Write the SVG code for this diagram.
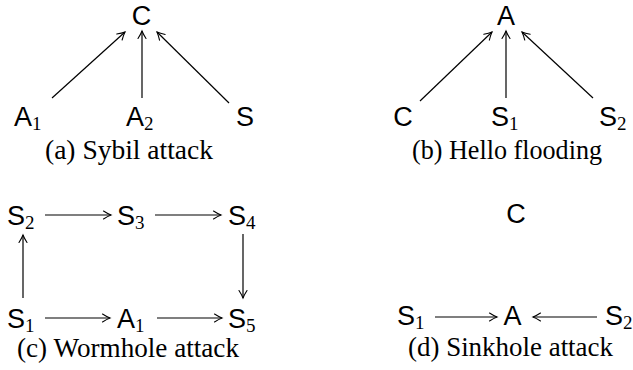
<svg xmlns="http://www.w3.org/2000/svg" width="633" height="370" viewBox="0 0 633 370">
  <defs>
    <marker id="to" markerUnits="userSpaceOnUse" markerWidth="12" markerHeight="12" viewBox="-9 -6 12 12" refX="0" refY="0" orient="auto">
      <path d="M-7.5,-4 C-5,-2.4 -1.8,-0.7 0,0 C-1.8,0.7 -5,2.4 -7.5,4" fill="none" stroke="#000" stroke-width="1.1" stroke-linecap="round"/>
    </marker>
  </defs>
  <style>
    .n { font-family: "Liberation Sans", Arial, sans-serif; font-size: 27px; fill: #000; }
    .s { font-family: "Liberation Serif", "Times New Roman", serif; font-size: 19px; }
    .cap { font-family: "Liberation Serif", "Times New Roman", serif; font-size: 26.5px; fill: #000; }
    .e { stroke: #000; stroke-width: 1.2; fill: none; marker-end: url(#to); }
  </style>

  <!-- (a) Sybil attack -->
  <g id="a-C"><text class="n" x="141.5" y="25" text-anchor="middle">C</text></g>
  <g id="a-A1"><text class="n" x="14" y="126">A<tspan class="s" dy="4">1</tspan></text></g>
  <g id="a-A2"><text class="n" x="126" y="126">A<tspan class="s" dy="4">2</tspan></text></g>
  <g id="a-S"><text class="n" x="245" y="126" text-anchor="middle">S</text></g>
  <text class="cap" x="45" y="159" textLength="168" lengthAdjust="spacingAndGlyphs">(a) Sybil attack</text>

  <!-- (b) Hello flooding -->
  <g id="b-A"><text class="n" x="506" y="25" text-anchor="middle">A</text></g>
  <g id="b-C"><text class="n" x="403" y="126" text-anchor="middle">C</text></g>
  <g id="b-S1"><text class="n" x="491" y="126">S<tspan class="s" dy="4">1</tspan></text></g>
  <g id="b-S2"><text class="n" x="599" y="126">S<tspan class="s" dy="4">2</tspan></text></g>
  <text class="cap" x="412" y="159" textLength="190" lengthAdjust="spacingAndGlyphs">(b) Hello flooding</text>

  <!-- (c) Wormhole attack -->
  <g id="c-S2"><text class="n" x="7" y="225">S<tspan class="s" dy="4">2</tspan></text></g>
  <g id="c-S3"><text class="n" x="117" y="225">S<tspan class="s" dy="4">3</tspan></text></g>
  <g id="c-S4"><text class="n" x="228" y="225">S<tspan class="s" dy="4">4</tspan></text></g>
  <g id="c-S1"><text class="n" x="7" y="328">S<tspan class="s" dy="4">1</tspan></text></g>
  <g id="c-A1"><text class="n" x="117" y="328">A<tspan class="s" dy="4">1</tspan></text></g>
  <g id="c-S5"><text class="n" x="228" y="328">S<tspan class="s" dy="4">5</tspan></text></g>
  <text class="cap" x="17" y="357" textLength="222" lengthAdjust="spacingAndGlyphs">(c) Wormhole attack</text>

  <!-- (d) Sinkhole attack -->
  <g id="d-C"><text class="n" x="516" y="223" text-anchor="middle">C</text></g>
  <g id="d-S1"><text class="n" x="397" y="325">S<tspan class="s" dy="4">1</tspan></text></g>
  <g id="d-A"><text class="n" x="512.5" y="325" text-anchor="middle">A</text></g>
  <g id="d-S2"><text class="n" x="605" y="325">S<tspan class="s" dy="4">2</tspan></text></g>
  <text class="cap" x="408" y="356" textLength="205" lengthAdjust="spacingAndGlyphs">(d) Sinkhole attack</text>

  <g id="edges">
    <!-- (a) -->
    <line class="e" x1="52" y1="98" x2="125" y2="32"/>
    <line class="e" x1="142" y1="98" x2="142" y2="31"/>
    <line class="e" x1="229" y1="103" x2="157" y2="32"/>
    <!-- (b) -->
    <line class="e" x1="420" y1="101" x2="492" y2="32"/>
    <line class="e" x1="506" y1="98" x2="506" y2="31"/>
    <line class="e" x1="593" y1="98" x2="522" y2="32"/>
    <!-- (c) -->
    <line class="e" x1="45" y1="215" x2="111" y2="215"/>
    <line class="e" x1="155" y1="215" x2="221" y2="215"/>
    <line class="e" x1="23" y1="298" x2="23" y2="235"/>
    <line class="e" x1="243" y1="234" x2="243" y2="298"/>
    <line class="e" x1="45" y1="318" x2="110" y2="318"/>
    <line class="e" x1="157" y1="318" x2="222" y2="318"/>
    <!-- (d) -->
    <line class="e" x1="435" y1="317" x2="497" y2="317"/>
    <line class="e" x1="597" y1="317" x2="533" y2="317"/>
  </g>
</svg>
